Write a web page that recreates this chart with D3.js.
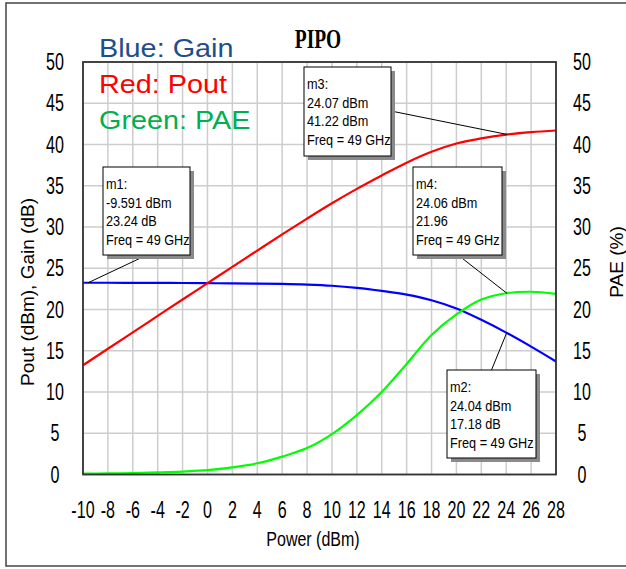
<!DOCTYPE html>
<meta charset="utf-8">
<html>
<style>
	body { margin: 0; background: #fff; }
	svg text { font-family: "Liberation Sans", Arial, sans-serif; }
</style>
<body>
<div id="plot"></div>
<script src="https://d3js.org/d3.v7.min.js"></script>
<script>
	// -----Data-----
	const power = [-10, -8, -6, -4, -2, 0, 2, 4, 6, 8, 10, 12, 14, 16, 18, 20, 22, 24, 26, 28];
	const gain  = [23.24, 23.24, 23.23, 23.22, 23.21, 23.19, 23.17, 23.14, 23.10, 23.02, 22.88, 22.62, 22.25, 21.80, 21.12, 20.12, 18.75, 17.20, 15.50, 13.70];
	const pout  = [13.24, 15.24, 17.23, 19.22, 21.21, 23.19, 25.17, 27.14, 29.10, 31.02, 32.88, 34.62, 36.25, 37.80, 39.12, 40.12, 40.75, 41.20, 41.50, 41.70];
	const pae   = [0.10, 0.13, 0.18, 0.26, 0.36, 0.52, 0.86, 1.36, 2.17, 3.20, 4.90, 7.20, 10.0, 13.4, 16.9, 19.4, 21.2, 21.97, 22.15, 21.90];

	const xTicks = [-10, -8, -6, -4, -2, 0, 2, 4, 6, 8, 10, 12, 14, 16, 18, 20, 22, 24, 26, 28];
	const yTicks = [0, 5, 10, 15, 20, 25, 30, 35, 40, 45, 50];

	const markerNames = ["m1", "m2", "m3", "m4"];
	const markerX     = [-9.591, 24.04, 24.07, 24.06];
	const markerY     = [23.24, 17.18, 41.22, 21.96];
	const markerText  = [
		["m1:", "-9.591 dBm", "23.24 dB", "Freq = 49 GHz"],
		["m2:", "24.04 dBm", "17.18 dB", "Freq = 49 GHz"],
		["m3:", "24.07 dBm", "41.22 dBm", "Freq = 49 GHz"],
		["m4:", "24.06 dBm", "21.96", "Freq = 49 GHz"]
	];

	const legendText = ["Blue: Gain", "Red: Pout", "Green: PAE"];

	// -----Layout-----
	const W = 626, H = 569;
	const plot = {left: 83, right: 556, top: 62, bottom: 474.5};
	// box position + where its leader line leaves it
	const boxes = {
		m1: {x: 103, y: 167, w: 87, h: 88, ax: 147, ay: 255},
		m2: {x: 447, y: 370, w: 89, h: 88, ax: 491.5, ay: 370},
		m3: {x: 304, y: 67, w: 87, h: 89, ax: 391, ay: 111},
		m4: {x: 413, y: 167, w: 89, h: 88, ax: 458, ay: 255}
	};
	const legendColour = ["#1f4e8c", "#ff0000", "#00b050"];

	var svg = d3.select("#plot").append("svg")
		.attr("width", W)
		.attr("height", H);

	// outer frame
	svg.append("rect")
		.attr("x", 6).attr("y", 3)
		.attr("width", 660).attr("height", 563)
		.attr("fill", "none")
		.attr("stroke", "#444")
		.attr("stroke-width", 1.5);

	var x = d3.scaleLinear().domain([-10, 28]).range([plot.left, plot.right]);
	var y = d3.scaleLinear().domain([0, 50]).range([plot.bottom, plot.top]);

	// grid
	svg.append("g").selectAll("line")
		.data(xTicks)
		.join("line")
		.attr("x1", d => x(d)).attr("x2", d => x(d))
		.attr("y1", plot.top).attr("y2", plot.bottom)
		.attr("stroke", "#cdcdcd").attr("stroke-width", 1.5);

	svg.append("g").selectAll("line")
		.data(yTicks)
		.join("line")
		.attr("x1", plot.left).attr("x2", plot.right)
		.attr("y1", d => y(d)).attr("y2", d => y(d))
		.attr("stroke", "#cdcdcd").attr("stroke-width", 1.5);

	// tick labels (condensed font like the original)
	function label(g, tx, ty, txt, size, sx, anchor) {
		return g.append("text")
			.attr("transform", "translate(" + tx + "," + ty + ") scale(" + sx + ",1)")
			.attr("text-anchor", anchor || "middle")
			.attr("font-size", size)
			.attr("fill", "#000")
			.text(txt);
	}

	var ticks = svg.append("g");
	yTicks.forEach(v => {
		label(ticks, 55, y(v) + 8, v, 23, 0.7);
		label(ticks, 582, y(v) + 8, v, 23, 0.7);
	});
	xTicks.forEach(v => {
		label(ticks, x(v), 518, v, 23, 0.7);
	});

	label(svg, 313, 546, "Power (dBm)", 20, 0.8);

	svg.append("text")
		.attr("transform", "translate(34,292) rotate(-90)")
		.attr("text-anchor", "middle")
		.attr("font-size", 19)
		.text("Pout (dBm), Gain (dB)");

	svg.append("text")
		.attr("transform", "translate(623,262) rotate(-90)")
		.attr("text-anchor", "middle")
		.attr("font-size", 19)
		.text("PAE (%)");

	// curves
	var line = d3.line()
		.x(d => x(d[0]))
		.y(d => y(d[1]))
		.curve(d3.curveCatmullRom.alpha(0.5));

	var series = [
		{values: gain, colour: "#0000ff"},
		{values: pout, colour: "#ff0000"},
		{values: pae, colour: "#00ff00"}
	];

	svg.append("g").selectAll("path")
		.data(series)
		.join("path")
		.attr("d", s => line(power.map((p, i) => [p, s.values[i]])))
		.attr("fill", "none")
		.attr("stroke", s => s.colour)
		.attr("stroke-width", 2.2);

	// plot frame
	svg.append("rect")
		.attr("x", plot.left).attr("y", plot.top)
		.attr("width", plot.right - plot.left)
		.attr("height", plot.bottom - plot.top)
		.attr("fill", "none")
		.attr("stroke", "#333")
		.attr("stroke-width", 1.8);

	// markers: leader line, shadow, box, text
	var mk = svg.append("g");
	markerNames.forEach((m, i) => {
		var b = boxes[m];
		mk.append("line")
			.attr("x1", b.ax).attr("y1", b.ay)
			.attr("x2", x(markerX[i])).attr("y2", y(markerY[i]))
			.attr("stroke", "#000").attr("stroke-width", 1);
	});
	markerNames.forEach((m, i) => {
		var b = boxes[m];
		mk.append("rect")
			.attr("x", b.x + 4).attr("y", b.y + 4)
			.attr("width", b.w).attr("height", b.h)
			.attr("fill", "#8a8a8a");
		mk.append("rect")
			.attr("x", b.x).attr("y", b.y)
			.attr("width", b.w).attr("height", b.h)
			.attr("fill", "#fff")
			.attr("stroke", "#000").attr("stroke-width", 1);
		markerText[i].forEach((t, j) => {
			label(mk, b.x + 3, b.y + 22 + j * 18.7, t, 15.5, 0.82, "start");
		});
	});

	// legend + title
	legendText.forEach((t, i) => {
		label(svg, 99, 56.5 + i * 36, t, 25.5, 1.13, "start")
			.attr("fill", legendColour[i]);
	});

	svg.append("text")
		.attr("transform", "translate(318,48) scale(0.72,1)")
		.attr("text-anchor", "middle")
		.style("font-family", "'Liberation Serif', 'Times New Roman', serif")
		.style("font-weight", "bold")
		.attr("font-size", 27)
		.text("PIPO");
</script>
</body>
</html>
